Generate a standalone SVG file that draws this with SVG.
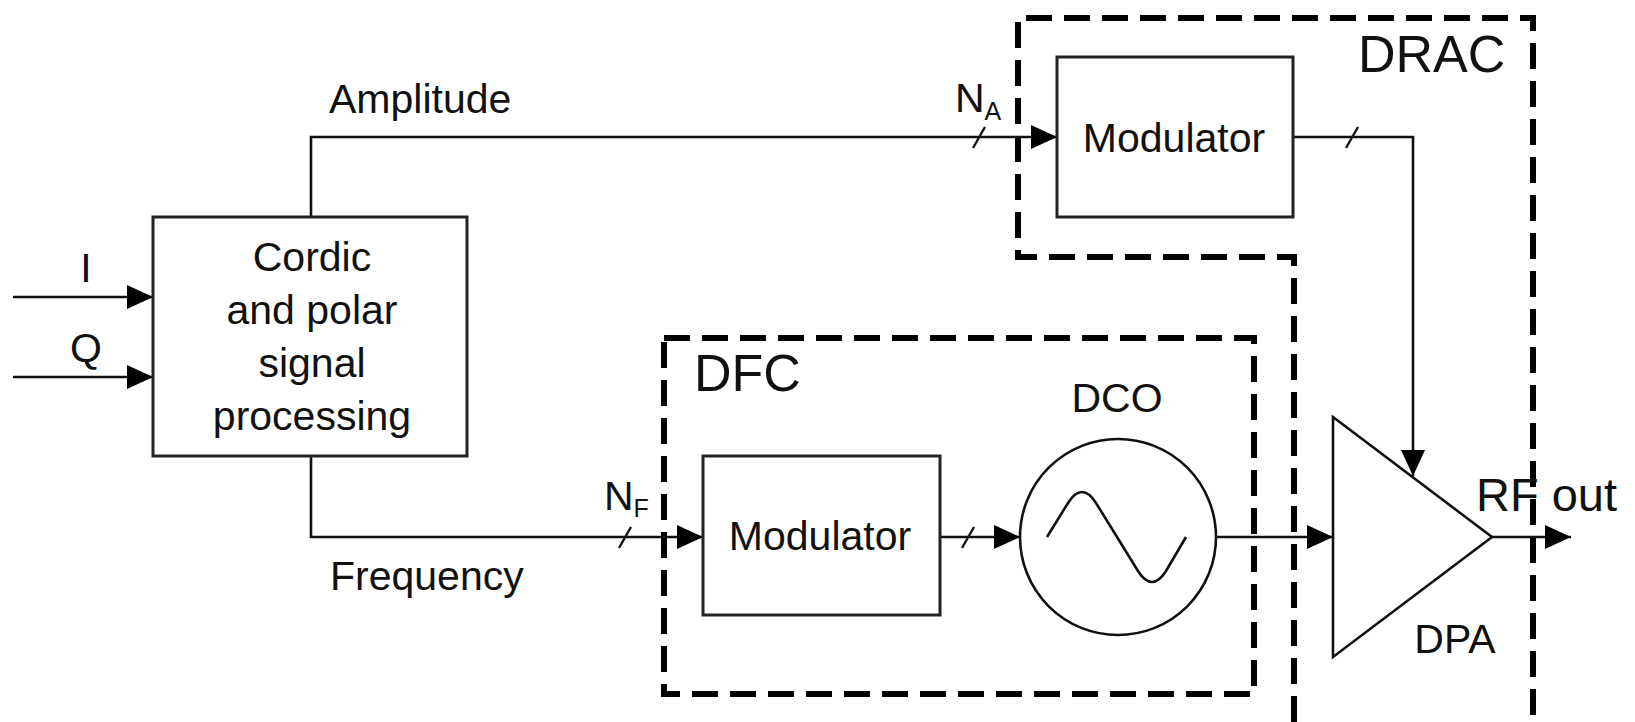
<svg xmlns="http://www.w3.org/2000/svg" width="1635" height="722" viewBox="0 0 1635 722">
<defs>
<style>
.box{fill:#fff;stroke:#222;stroke-width:3}
.ln{fill:none;stroke:#111;stroke-width:2.6}
.dash{fill:none;stroke:#000;stroke-width:6;stroke-dasharray:26 12}
.sl{stroke:#111;stroke-width:2.4}
text{font-family:"Liberation Sans",Arial,sans-serif;fill:#111}
.t{font-size:41px}
.big{font-size:52px}
</style>
<marker id="ah" markerUnits="userSpaceOnUse" markerWidth="28" markerHeight="26" refX="26" refY="12" orient="auto">
<path d="M0,0 L26,12 L0,24 z" fill="#000"/>
</marker>
</defs>
<rect width="1635" height="722" fill="#fff"/>

<g id="drac">
<path class="dash" d="M1294,722 V257 H1018 V18 H1533 V722"/>
<text class="big" x="1358" y="72">DRAC</text>
</g>
<g id="dfc">
<rect class="dash" x="664" y="338" width="590" height="356"/>
<text class="big" x="694" y="391">DFC</text>
</g>

<g id="connectors">
<line class="ln" x1="13" y1="297" x2="153" y2="297" marker-end="url(#ah)"/>
<line class="ln" x1="13" y1="377" x2="153" y2="377" marker-end="url(#ah)"/>
<path class="ln" d="M311,217 V137 H1057" marker-end="url(#ah)"/>
<path class="ln" d="M311,456 V537 H703" marker-end="url(#ah)"/>
<line class="ln" x1="940" y1="537" x2="1020" y2="537" marker-end="url(#ah)"/>
<line class="ln" x1="1216" y1="537" x2="1333" y2="537" marker-end="url(#ah)"/>
<path class="ln" d="M1293,137 H1413 V476" marker-end="url(#ah)"/>
<line class="ln" x1="1492" y1="537" x2="1571" y2="537" marker-end="url(#ah)"/>
<line class="sl" x1="973" y1="148" x2="985" y2="127"/>
<line class="sl" x1="1346" y1="148" x2="1358" y2="127"/>
<line class="sl" x1="619" y1="548" x2="631" y2="527"/>
<line class="sl" x1="962" y1="548" x2="974" y2="527"/>
</g>

<g id="cordic">
<rect class="box" x="153" y="217" width="314" height="239"/>
<text class="t" text-anchor="middle" x="312" y="271">Cordic</text>
<text class="t" text-anchor="middle" x="312" y="324">and polar</text>
<text class="t" text-anchor="middle" x="312" y="377">signal</text>
<text class="t" text-anchor="middle" x="312" y="430">processing</text>
</g>

<g id="mod-a">
<rect class="box" x="1057" y="57" width="236" height="160"/>
<text class="t" text-anchor="middle" x="1174" y="152">Modulator</text>
</g>

<g id="mod-f">
<rect class="box" x="703" y="456" width="237" height="159"/>
<text class="t" text-anchor="middle" x="820" y="550">Modulator</text>
</g>

<g id="dco">
<circle cx="1118" cy="537" r="98" fill="#fff" stroke="#111" stroke-width="2.6"/>
<path class="ln" d="M1047,537 L1068,503 Q1082,481 1096,503 L1138,571 Q1152,593 1166,571 L1186,537"/>
<text class="t" text-anchor="middle" x="1117" y="412">DCO</text>
</g>

<g id="dpa">
<polygon points="1333,417 1492,537 1333,657" fill="#fff" stroke="#111" stroke-width="2.6"/>
<text class="t" text-anchor="middle" x="1455" y="653">DPA</text>
</g>

<g id="labels">
<text class="t" text-anchor="middle" x="86" y="282">I</text>
<text class="t" text-anchor="middle" x="86" y="362">Q</text>
<text class="t" x="329" y="113">Amplitude</text>
<text class="t" x="330" y="590">Frequency</text>
<text class="t" x="955" y="112">N<tspan font-size="25" dy="8">A</tspan></text>
<text class="t" x="604" y="510">N<tspan font-size="25" dy="7">F</tspan></text>
<text x="1476" y="511" font-size="47">RF out</text>
</g>
</svg>
